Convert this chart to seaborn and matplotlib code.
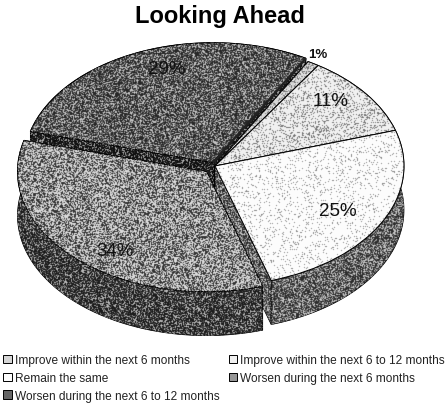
import numpy as np
import seaborn as sns
import matplotlib
matplotlib.use("Agg")
import matplotlib.pyplot as plt
from matplotlib.patches import Patch, Polygon
from matplotlib.transforms import Affine2D

# Survey results
categories = [
    "Improve within the next 6 months",
    "Improve within the next 6 to 12 months",
    "Remain the same",
    "Worsen during the next 6 months",
    "Worsen during the next 6 to 12 months",
]
percent = [1, 11, 25, 34, 29]
value_labels = ["1%", "11%", "25%", "34%", "29%"]
title_text = "Looking Ahead"

# Canvas and pie projection, in pixels
W, H = 445, 406
CX, CY, RX, RY = 215, 406 - 167, 189, 120
DEPTH = 44
START_ANGLE = 60.5
explode = [0, 0, 0, 0.065, 0.03]

# Mean tones, and grain as (dark share, light share, strength)
top_tones = ["#d6d6d6", "#f0f0f0", "#fcfcfc", "#969696", "#666666"]
top_grain = [(.3, .1, .45), (.22, 0, .5), (.09, 0, .45), (.42, .4, .65), (.45, .3, .6)]
wall_tones = ["#606060", "#6e6e6e", "#747474", "#464646", "#282828"]
wall_grain = (.45, .3, .6)
label_xy = [(318, 55), (331, 101), (338, 212), (115, 252), (167, 69)]
label_size = [9.5, 13.5, 13.5, 13.5, 13.5]

sns.set_theme(style="white")
plt.rcParams["font.family"] = ["Liberation Sans", "DejaVu Sans"]
legend_palette = sns.color_palette(top_tones)


def grain_layer(dark, light, strength, seed):
    """RGBA layer of fine dark and light grain, slightly softened."""
    yy, xx = np.mgrid[0:H, 0:W].astype(float)
    n = np.sin((xx + seed) * 12.9898 + (yy + 3 * seed) * 78.233) * 43758.5453
    n = n - np.floor(n)
    s = np.where(n < dark, -1.0, np.where(n > 1 - light, 1.0, 0.0))
    soft = 0.6 * s + 0.1 * (np.roll(s, 1, 0) + np.roll(s, -1, 0)
                            + np.roll(s, 1, 1) + np.roll(s, -1, 1))
    rgba = np.zeros((H, W, 4))
    rgba[..., :3] = (soft > 0)[..., None].astype(float)
    rgba[..., 3] = np.clip(np.abs(soft) * strength, 0, 1)
    return rgba


def add_grain(ax, patch, grain, seed, z):
    im = ax.imshow(grain_layer(*grain, seed), extent=(0, W, 0, H), origin="upper",
                   interpolation="nearest", aspect="auto", zorder=z)
    im.set_clip_path(patch)


fig = plt.figure(figsize=(W / 100, H / 100), dpi=100, facecolor="white")
ax = fig.add_axes([0, 0, 1, 1])

wedges, _ = ax.pie(percent, startangle=START_ANGLE, counterclock=False, explode=explode,
                   colors=top_tones, radius=1, normalize=True,
                   wedgeprops=dict(edgecolor="black", linewidth=0.7))
to_pixels = Affine2D().scale(RX, RY).translate(CX, CY) + ax.transData

# Painter's order: the back slice first, the front slice last
for order, i in enumerate([4, 0, 1, 2, 3]):
    w = wedges[i]
    base = order * 10 + 2
    a1, a2 = np.radians(w.theta1), np.radians(w.theta2)
    cx = CX + w.center[0] * RX
    cy = CY + w.center[1] * RY
    arc = np.linspace(a1, a2, 90)
    rim = np.c_[cx + RX * np.cos(arc), cy + RY * np.sin(arc)]
    shift = np.array([0, DEPTH])
    apex = np.array([cx, cy])
    faces = [
        np.array([apex, rim[0], rim[0] - shift, apex - shift]),
        np.array([apex, rim[-1], rim[-1] - shift, apex - shift]),
        np.r_[rim, (rim - shift)[::-1]],
    ]
    for k, pts in enumerate(faces):
        face = Polygon(pts, closed=True, facecolor=wall_tones[i], edgecolor="black",
                       linewidth=0.5, zorder=base + k)
        ax.add_patch(face)
        add_grain(ax, face, wall_grain, seed=i * 7 + k + 11, z=base + k + 0.5)
    w.set_transform(to_pixels)
    w.set_zorder(base + 4)
    add_grain(ax, w, top_grain[i], seed=i * 5 + 1, z=base + 4.5)
    # The back slice carries a heavy dark edge on its clockwise side
    if i == 4:
        ax.plot([apex[0], rim[0, 0]], [apex[1], rim[0, 1]], color="#222222",
                linewidth=1.7, solid_capstyle="butt", zorder=base + 5)

ax.set_xlim(0, W)
ax.set_ylim(0, H)
ax.set_aspect("auto")
ax.axis("off")

for i, (txt, (x, y)) in enumerate(zip(value_labels, label_xy)):
    ax.text(x, H - y, txt, ha="center", va="center", fontsize=label_size[i],
            fontweight="bold" if i == 0 else "normal", color="#111111", zorder=100)

ax.text(220, H - 17, title_text, ha="center", va="center", fontsize=17,
        fontweight="bold", color="black", zorder=100)

# Two columns, filled column by column
legend_order = [0, 2, 4, 1, 3]
handles = [Patch(facecolor=legend_palette[i], edgecolor="black", linewidth=0.7,
                 label=categories[i]) for i in legend_order]
ax.legend(handles=handles, ncol=2, loc="lower left", bbox_to_anchor=(0, 0),
          bbox_transform=fig.transFigure, frameon=False, fontsize=8.6,
          handlelength=0.75, handleheight=0.75, handletextpad=0.25,
          columnspacing=0.75, labelspacing=0.5, borderaxespad=0.0, borderpad=0.25,
          labelcolor="#222222").set_zorder(100)

fig.savefig("out.png", dpi=100, facecolor="white")
